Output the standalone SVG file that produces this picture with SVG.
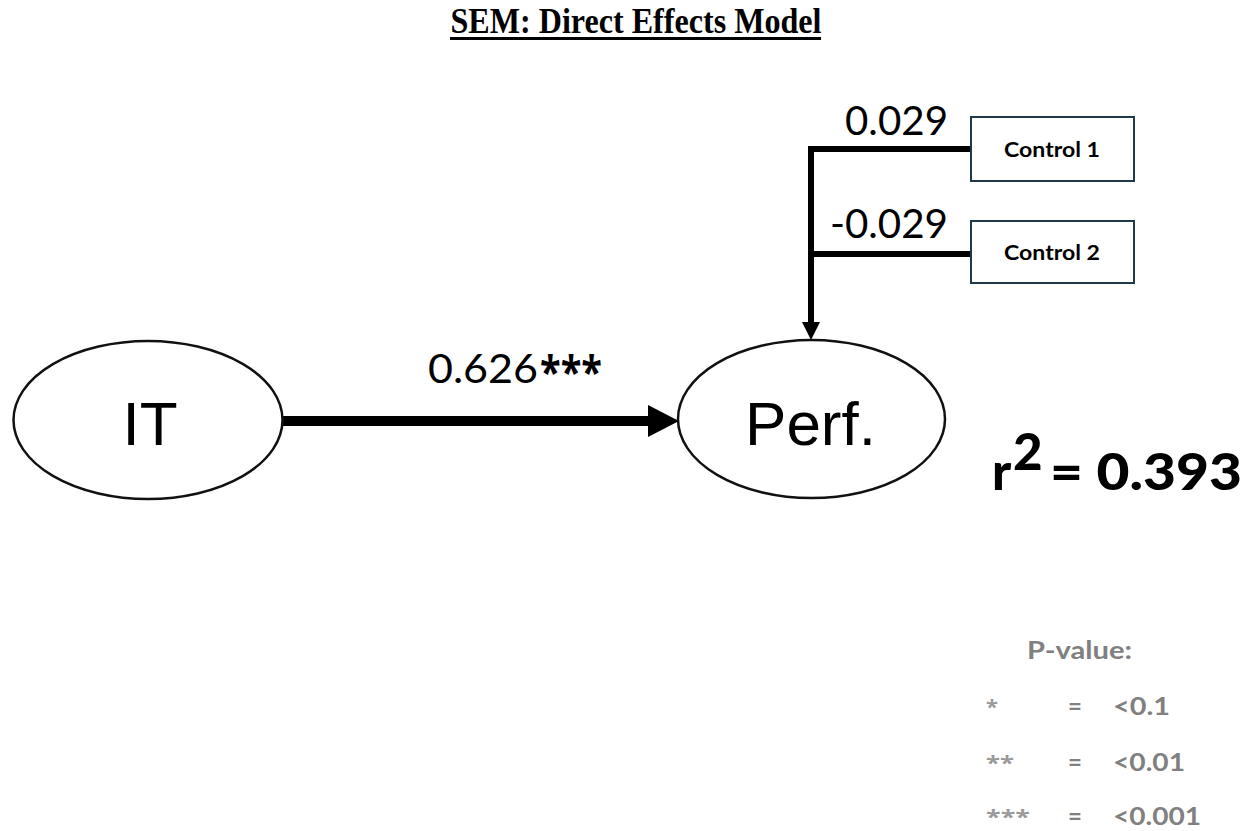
<svg xmlns="http://www.w3.org/2000/svg" width="1252" height="831" viewBox="0 0 1252 831">
<style>
.title{font-family:"Liberation Serif",serif;font-weight:bold;font-size:35px;fill:#000}
.node{fill:#fff;stroke:#111;stroke-width:2.5}
.box{fill:#fff;stroke:#1e3a4a;stroke-width:2}
.big{font-family:"Liberation Sans",Arial,sans-serif;font-size:62px;fill:#000}
.lab{font-family:Lato,"Open Sans",sans-serif;font-size:41px;fill:#000}
.ctl{font-family:Lato,"Open Sans",sans-serif;font-weight:bold;font-size:20px;fill:#000}
.r2{font-family:Lato,"Open Sans",sans-serif;font-weight:900;font-size:51px;fill:#000}
.leg{font-family:Lato,"Open Sans",sans-serif;font-weight:bold;font-size:24px;fill:#808080}
.legs{font-family:"Open Sans",Lato,sans-serif;font-weight:bold;font-size:20px;fill:#9a9a9a}
.conn{stroke:#000;fill:none}
</style>
<rect width="1252" height="831" fill="#fff"/>
<g id="title">
<text class="title" x="636" y="33" text-anchor="middle" textLength="371" lengthAdjust="spacingAndGlyphs">SEM: Direct Effects Model</text>
<rect x="450" y="37" width="371" height="3" fill="#000"/>
</g>
<g id="connectors">
<line class="conn" x1="283" y1="421" x2="650" y2="421" stroke-width="10"/>
<polygon points="648,405 679,421 648,437" fill="#000"/>
<polyline class="conn" points="971,149 811,149 811,324" stroke-width="6"/>
<line class="conn" x1="811" y1="254" x2="971" y2="254" stroke-width="6"/>
<polygon points="802,322 820,322 811,340" fill="#000"/>
<text class="lab" x="948" y="135" text-anchor="end" textLength="103" lengthAdjust="spacingAndGlyphs">0.029</text>
<text class="lab" x="948" y="238" text-anchor="end" textLength="118" lengthAdjust="spacingAndGlyphs">-0.029</text>
<text class="lab" x="428" y="383" textLength="110" lengthAdjust="spacingAndGlyphs">0.626</text>
<text x="540" y="388" font-family="'Open Sans',Lato,sans-serif" font-weight="bold" font-size="44" textLength="62" lengthAdjust="spacingAndGlyphs">***</text>
</g>
<g id="node-it">
<ellipse class="node" cx="148" cy="420" rx="134.5" ry="79"/>
<text class="big" x="150" y="445" text-anchor="middle">IT</text>
</g>
<g id="node-perf">
<ellipse class="node" cx="811.5" cy="419" rx="133.5" ry="79"/>
<text class="big" x="810.5" y="445" text-anchor="middle">Perf.</text>
</g>
<g id="node-control1">
<rect class="box" x="971" y="117" width="163" height="64"/>
<text class="ctl" x="1052" y="157" text-anchor="middle" textLength="96" lengthAdjust="spacingAndGlyphs">Control 1</text>
</g>
<g id="node-control2">
<rect class="box" x="971" y="221" width="163" height="62"/>
<text class="ctl" x="1052" y="260" text-anchor="middle" textLength="96" lengthAdjust="spacingAndGlyphs">Control 2</text>
</g>
<g id="r-squared">
<text class="r2" x="992" y="490">r</text>
<text class="r2" x="1013" y="470" font-size="30">2</text>
<text class="r2" x="1050" y="490" textLength="192" lengthAdjust="spacingAndGlyphs">= 0.393</text>
</g>
<g id="legend">
<text class="leg" x="1027" y="659" textLength="105" lengthAdjust="spacingAndGlyphs">P-value:</text>
<text class="legs" x="986" y="714" textLength="12" lengthAdjust="spacingAndGlyphs">*</text>
<text class="leg" x="1068" y="715">=</text>
<text class="leg" x="1113" y="715" textLength="57" lengthAdjust="spacingAndGlyphs">&lt;0.1</text>
<text class="legs" x="986" y="770" textLength="28" lengthAdjust="spacingAndGlyphs">**</text>
<text class="leg" x="1068" y="771">=</text>
<text class="leg" x="1113" y="771" textLength="72" lengthAdjust="spacingAndGlyphs">&lt;0.01</text>
<text class="legs" x="986" y="824" textLength="44" lengthAdjust="spacingAndGlyphs">***</text>
<text class="leg" x="1068" y="825">=</text>
<text class="leg" x="1113" y="825" textLength="88" lengthAdjust="spacingAndGlyphs">&lt;0.001</text>
</g>
</svg>
